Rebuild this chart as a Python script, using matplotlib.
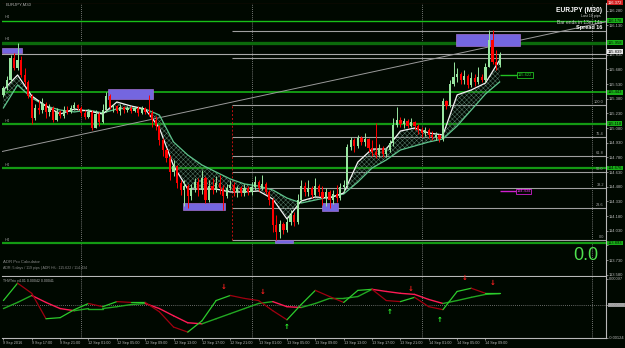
import numpy as np
import matplotlib
matplotlib.use("Agg")
import matplotlib.pyplot as plt
from matplotlib.patches import Rectangle

# ---- price data (M30 candles, bar 0 = 9 Sep 13:00) ----
first_open = 115.420
closes = [115.490, 115.572, 115.797, 115.695, 115.777, 115.623, 115.552, 115.408, 115.183, 115.286,
          115.265, 115.327, 115.245, 115.286, 115.163, 115.245, 115.204, 115.265, 115.245, 115.286,
          115.316, 115.286, 115.235, 115.194, 115.245, 115.081, 115.224, 115.143, 115.265, 115.408,
          115.296, 115.306, 115.255, 115.296, 115.265, 115.286, 115.255, 115.286, 115.235, 115.286,
          115.245, 115.235, 115.163, 115.102, 114.959, 114.856, 114.774, 114.631, 114.693, 114.519,
          114.447, 114.488, 114.386, 114.468, 114.529, 114.447, 114.570, 114.345, 114.488, 114.447,
          114.519, 114.468, 114.386, 114.468, 114.498, 114.427, 114.468, 114.417, 114.468, 114.427,
          114.478, 114.529, 114.468, 114.509, 114.427, 114.345, 114.089, 114.018, 114.100, 114.038,
          114.120, 114.192, 114.120, 114.345, 114.488, 114.427, 114.468, 114.396, 114.488, 114.427,
          114.365, 114.427, 114.345, 114.406, 114.365, 114.478, 114.498, 114.887, 114.959, 114.897,
          114.979, 114.938, 114.969, 114.877, 114.836, 114.805, 114.877, 114.815, 114.856, 114.928,
          115.112, 115.163, 115.122, 115.153, 115.102, 115.143, 115.102, 115.061, 115.030, 115.061,
          115.010, 114.989, 115.010, 114.969, 115.357, 115.306, 115.531, 115.603, 115.633, 115.572,
          115.613, 115.521, 115.592, 115.552, 115.603, 115.572, 115.705, 115.981, 115.756, 115.725,
          115.839]
highs = [115.511, 115.613, 115.828, 115.848, 115.950, 115.817, 115.695, 115.572, 115.429, 115.327,
         115.368, 115.388, 115.347, 115.327, 115.306, 115.286, 115.265, 115.306, 115.306, 115.316,
         115.347, 115.327, 115.306, 115.265, 115.275, 115.265, 115.265, 115.245, 115.327, 115.449,
         115.429, 115.327, 115.316, 115.327, 115.306, 115.306, 115.306, 115.306, 115.306, 115.306,
         115.296, 115.419, 115.265, 115.204, 115.112, 114.979, 114.877, 114.805, 114.754, 114.703,
         114.550, 114.550, 114.509, 114.509, 114.570, 114.570, 114.652, 114.590, 114.550, 114.570,
         114.590, 114.601, 114.498, 114.509, 114.550, 114.529, 114.488, 114.488, 114.509, 114.488,
         114.529, 114.590, 114.550, 114.601, 114.529, 114.447, 114.365, 114.192, 114.140, 114.120,
         114.161, 114.243, 114.222, 114.406, 114.550, 114.529, 114.550, 114.488, 114.570, 114.509,
         114.488, 114.468, 114.447, 114.447, 114.498, 114.519, 114.550, 114.918, 114.989, 114.979,
         115.010, 114.999, 115.030, 114.979, 114.959, 115.132, 114.918, 114.897, 114.887, 114.959,
         115.183, 115.296, 115.194, 115.183, 115.173, 115.183, 115.153, 115.122, 115.091, 115.091,
         115.081, 115.050, 115.040, 115.020, 115.388, 115.368, 115.572, 115.756, 115.695, 115.654,
         115.674, 115.633, 115.654, 115.633, 115.705, 115.633, 115.746, 116.083, 116.083, 115.879,
         115.858]
lows = [115.398, 115.470, 115.552, 115.674, 115.674, 115.603, 115.521, 115.388, 115.122, 115.163,
        115.224, 115.235, 115.183, 115.204, 115.143, 115.153, 115.183, 115.183, 115.224, 115.235,
        115.265, 115.265, 115.204, 115.173, 115.183, 115.061, 115.081, 115.102, 115.132, 115.245,
        115.275, 115.245, 115.235, 115.214, 115.235, 115.245, 115.235, 115.245, 115.204, 115.224,
        115.224, 115.204, 115.091, 115.061, 114.907, 114.795, 114.733, 114.550, 114.590, 114.468,
        114.396, 114.284, 114.263, 114.345, 114.427, 114.386, 114.406, 114.314, 114.325, 114.406,
        114.427, 114.406, 114.243, 114.365, 114.447, 114.386, 114.376, 114.386, 114.386, 114.396,
        114.396, 114.447, 114.437, 114.447, 114.406, 114.294, 114.018, 113.936, 113.956, 113.997,
        114.018, 114.089, 114.079, 114.100, 114.325, 114.386, 114.386, 114.365, 114.376, 114.386,
        114.294, 114.284, 114.263, 114.304, 114.325, 114.345, 114.427, 114.468, 114.856, 114.836,
        114.877, 114.907, 114.897, 114.836, 114.795, 114.774, 114.785, 114.785, 114.785, 114.836,
        114.897, 115.091, 115.091, 115.081, 115.081, 115.091, 115.061, 115.020, 114.989, 114.999,
        114.979, 114.959, 114.959, 114.938, 114.948, 115.275, 115.296, 115.511, 115.552, 115.531,
        115.531, 115.490, 115.500, 115.511, 115.531, 115.552, 115.552, 115.705, 115.736, 115.674,
        115.705]

# moving-average ribbon, read every 4th bar
ma_step = 4
ma_fast = [115.470, 115.623, 115.408, 115.306, 115.224, 115.275, 115.255, 115.224, 115.347, 115.306,
           115.275, 115.081, 114.693, 114.457, 114.457, 114.457, 114.427, 114.427, 114.437, 114.355,
           114.151, 114.335, 114.376, 114.365, 114.417, 114.733, 114.866, 114.866, 115.050, 115.081,
           115.030, 115.010, 115.419, 115.470, 115.541, 115.777]
ma_slow = [115.286, 115.521, 115.388, 115.306, 115.265, 115.245, 115.265, 115.235, 115.275, 115.286,
           115.275, 115.214, 114.938, 114.805, 114.703, 114.631, 114.560, 114.509, 114.488, 114.447,
           114.365, 114.314, 114.345, 114.376, 114.406, 114.529, 114.672, 114.754, 114.856, 114.897,
           114.938, 114.969, 115.102, 115.265, 115.429, 115.552]

# THV Trix oscillator (units of 1e-5), read every 4th bar
trix_fast = [15, 80, 42, -53, -49, -19, 4, -8, 11, 8, 8, -27, -84, -103, -61, 15, 34, 23, 15, -23,
             -57, 0, 53, 30, 8, 53, 57, 15, 11, 27, -8, -19, 49, 61, 42, 42]
trix_slow = [-15, 8, 34, 8, -15, -23, -15, -15, -8, 0, 4, -15, -42, -68, -72, -53, -34, -15, 4, 11,
             -8, -11, 4, 23, 23, 30, 57, 49, 42, 38, 19, 4, 15, 27, 38, 41]
arrow_dn_bars = [62, 73, 115, 130, 138]
arrow_dn_vals = [49, 30, 42, 84, 65]
arrow_up_bars = [80, 109, 123]
arrow_up_vals = [-68, -11, -42]

time_labels = ['9 Sep 2016', '9 Sep 17:00', '9 Sep 21:00', '12 Sep 01:00', '12 Sep 05:00',
               '12 Sep 09:00', '12 Sep 13:00', '12 Sep 17:00', '12 Sep 21:00', '13 Sep 01:00',
               '13 Sep 05:00', '13 Sep 09:00', '13 Sep 13:00', '13 Sep 17:00', '13 Sep 21:00',
               '14 Sep 01:00', '14 Sep 05:00', '14 Sep 09:00']
label_step = 8
separator_bars = [22, 70, 118, 166]

# levels and drawings
green_levels = [116.180, 115.955, 115.448, 115.125, 114.672, 113.905]
green_labels = ['116.178', '115.958', '115.443', '115.118', '114.676', '113.893']
h4_levels = [116.180, 115.955, 115.125, 114.672, 113.905]
red_level = 116.372
bid = 115.839
fib_levels = [0.0, 23.6, 38.2, 50.0, 61.8, 76.4, 100.0]
fib_low, fib_high = 113.940, 115.316
fib_bar = 64.5
extra_gray = [116.073, 115.797]
zones = [(-0.4, 5.3, 115.848, 115.899), (29.5, 42.2, 115.378, 115.480),
         (50.7, 62.5, 114.243, 114.314), (76.6, 81.7, 113.905, 113.936),
         (89.9, 94.4, 114.233, 114.314), (127.7, 145.8, 115.920, 116.042)]
trend = ([-1.0, 171.0], [114.836, 116.175])
adr_high, adr_low = 115.622, 114.434

BG = '#000800'
GRAY = '#b8b8b8'
SMALL = ['Liberation Sans', 'DejaVu Sans']
plt.rcParams['hatch.linewidth'] = 0.35
plt.rcParams['axes.unicode_minus'] = False

W, H = 625, 348
fig = plt.figure(figsize=(6.25, 3.48), dpi=100, facecolor=BG)
ax = fig.add_axes([2 / W, 1 - 276 / H, 604 / W, 273 / H], facecolor=BG)
sub = fig.add_axes([2 / W, 1 - 338 / H, 604 / W, 61 / H], facecolor=BG)

n = len(closes)
bars = np.arange(n)
opens = np.array([first_open] + closes[:-1])
c = np.array(closes)
h = np.maximum(np.array(highs), np.maximum(opens, c))
l = np.minimum(np.array(lows), np.minimum(opens, c))
up = c >= opens

for a in (ax, sub):
    a.set_xlim(-0.4, 170.0)
    for b in separator_bars:
        a.axvline(b, color='#9a9a9a', lw=0.6, ls=(0, (1, 1.5)), zorder=1)
    for s in ('left', 'top'):
        a.spines[s].set_visible(False)
    for s in ('right', 'bottom'):
        a.spines[s].set_color(GRAY)
        a.spines[s].set_linewidth(0.8)

ax.set_ylim(113.568, 116.359)

# horizontal levels
ax.axhline(red_level, color='#e02020', lw=1.5, zorder=2)
for lv, lw, col in zip(green_levels, [1.0, 2.4, 1.1, 1.6, 1.6, 1.6],
                       ['#18c018', '#0b6a0b', '#18c018', '#139a13', '#139a13', '#139a13']):
    ax.axhline(lv, color=col, lw=lw, zorder=2)
for lv in h4_levels:
    ax.text(0.4, lv + 0.012, 'H4', color='#9a9a9a', fontsize=2.8, va='bottom', zorder=3,
            family=SMALL)
ax.axhline(bid, color='#a8a8a8', lw=0.8, zorder=2)
for lv in extra_gray:
    ax.hlines(lv, fib_bar, 170.0, color='#a0a0a0', lw=0.8, zorder=2)
for f in fib_levels:
    y = fib_low + (fib_high - fib_low) * f / 100
    ax.hlines(y, fib_bar, 170.0, color='#a0a0a0', lw=0.8, zorder=2)
    ax.text(169.4, y + 0.01, f'{f:.1f}', color='#a8a8a8', fontsize=2.8, ha='right', va='bottom',
            family=SMALL)
ax.vlines(fib_bar, fib_low, fib_high, color='#c01010', lw=0.7, ls=(0, (2, 2)), zorder=2)
ax.plot(trend[0], trend[1], color='#9a9a9a', lw=0.7, zorder=2)

for x0, x1, y0, y1 in zones:
    ax.add_patch(Rectangle((x0, y0), x1 - x0, y1 - y0, facecolor='#7466e0',
                           edgecolor='#a070d0', lw=0.5, zorder=3))

# MA ribbon
xm = np.arange(0, n, ma_step)
ax.fill_between(xm, ma_fast, ma_slow, facecolor='none', edgecolor='#557868', hatch='xxxxxxx',
                linewidth=0, zorder=3)
ax.plot(xm, ma_slow, color='#5ec48c', lw=0.9, zorder=4)
ax.plot(xm, ma_fast, color='#f4f4f4', lw=0.9, zorder=4)

# candles
cols = np.where(up, '#98e6a0', '#ff0000')
ax.vlines(bars, l, h, colors=cols, lw=0.7, zorder=5)
body_lo = np.minimum(opens, c)
body_h = np.maximum(np.abs(c - opens), 0.004)
ax.bar(bars, body_h, bottom=body_lo, width=0.62, color=cols, lw=0, zorder=6)

# ADR markers
ax.hlines(adr_high, 140, 145, color='#22c022', lw=1.0, zorder=5)
ax.text(145.2, adr_high, f'{adr_high:.3f}', color='#22d022', fontsize=3.0, va='center',
        family=SMALL, bbox=dict(boxstyle='square,pad=0.15', fc=BG, ec='#22c022', lw=0.6), zorder=7)
ax.hlines(adr_low, 140, 144.5, color='#d020d0', lw=1.0, zorder=5)
ax.text(144.7, adr_low, f'{adr_low:.3f}', color='#e030e0', fontsize=3.0, va='center',
        family=SMALL, bbox=dict(boxstyle='square,pad=0.15', fc=BG, ec='#d020d0', lw=0.6), zorder=7)

# right price scale (labels hidden where a level label covers them, as in the terminal)
ax.yaxis.tick_right()
ticks = np.round(np.arange(113.580, 116.281, 0.150), 3)
ax.set_yticks(ticks)
tick_labels = ['' if min(abs(t - g) for g in green_levels) < 0.03 else f'{t:.3f}' for t in ticks]
ax.set_yticklabels(tick_labels, family=SMALL)
ax.tick_params(axis='y', colors=GRAY, labelsize=3.0, length=1.2, width=0.5, pad=0.6)
ax.tick_params(axis='x', bottom=False, labelbottom=False)
yt = ax.get_yaxis_transform()
box_kw = dict(fontsize=3.0, va='center', ha='left', transform=yt, zorder=8, clip_on=False,
              family=SMALL)
for lv, lab in zip(green_levels, green_labels):
    ax.text(1.003, lv, lab, color='#001000',
            bbox=dict(boxstyle='square,pad=0.1', fc='#18b018', ec='none'), **box_kw)
ax.text(1.003, red_level - 0.012, f'{red_level:.3f}', color='#ffffff',
        bbox=dict(boxstyle='square,pad=0.1', fc='#d02020', ec='none'), **box_kw)
ax.text(1.003, bid + 0.022, f'{bid:.3f}', color='#000000',
        bbox=dict(boxstyle='square,pad=0.1', fc='#e8e8e8', ec='none'), **box_kw)

# oscillator panel
scale = 1e-5
tf = np.array(trix_fast) * scale
ts = np.array(trix_slow) * scale
sub.set_ylim(-0.00125, 0.00103)
sub.axhline(0, color='#8a8a8a', lw=0.6, ls=(0, (1, 1.5)))
for i in range(len(xm) - 1):
    seg = xm[i:i + 2]
    sub.plot(seg, ts[i:i + 2], color='#22a822' if ts[i + 1] >= ts[i] else '#ff1a55', lw=1.0,
             solid_capstyle='round')
    sub.plot(seg, tf[i:i + 2], color='#2ccc2c' if tf[i + 1] >= tf[i] else '#a00010', lw=0.9,
             solid_capstyle='round')
for b, v in zip(arrow_dn_bars, arrow_dn_vals):
    sub.text(b, v * scale + 0.00006, '↓', color='#ff2020', fontsize=5, ha='center',
             va='bottom', fontweight='bold')
for b, v in zip(arrow_up_bars, arrow_up_vals):
    sub.text(b, v * scale - 0.00006, '↑', color='#30ff30', fontsize=5, ha='center',
             va='top', fontweight='bold')
sub.yaxis.tick_right()
sub.set_yticks([0.00097, 0.0, -0.00124])
sub.set_yticklabels(['0.00097', '0.000000', '-0.00124'], family=SMALL)
sub.get_yticklabels()[1].set_bbox(dict(boxstyle='square,pad=0.1', fc='#9a9a9a', ec='none'))
sub.get_yticklabels()[1].set_color('#101010')
sub.tick_params(axis='y', colors=GRAY, labelsize=2.9, length=1.2, width=0.5, pad=0.6)
sub.set_xticks(np.arange(len(time_labels)) * label_step)
sub.set_xticklabels(time_labels, ha='left', family=SMALL)
sub.tick_params(axis='x', colors=GRAY, labelsize=2.7, length=1.5, width=0.5, pad=0.8)

# texts
def ftext(x, y, s, **kw):
    fig.text(x / W, 1 - y / H, s, **kw)

ftext(6, 5, 'EURJPY,M30', color='#b0b0b0', fontsize=3.1, va='center', family=SMALL)
ftext(602, 10, 'EURJPY (M30)', color='#ffffff', fontsize=4.8, fontweight='bold', ha='right',
      va='center', family=SMALL)
ftext(601, 16, 'Last 10 pips', color='#d0d0d0', fontsize=2.6, ha='right', va='center', family=SMALL)
ftext(602, 22, 'Bar ends in 13m 14s', color='#d0d0d0', fontsize=3.5, ha='right', va='center',
      family=SMALL)
ftext(602, 28, 'Spread 16', color='#ffffff', fontsize=4.0, fontweight='bold', ha='right',
      va='center', family=SMALL)
ftext(3, 262, 'ADR Pro Calculator', color='#8a8a8a', fontsize=3.1, va='center', family=SMALL)
ftext(3, 268, 'ADR: 5 days / 119 pips | ADR H/L: 115.622 / 114.434', color='#8a8a8a',
      fontsize=2.6, va='center', family=SMALL)
ftext(573, 255, '0.0', color='#4ee04e', fontsize=13, va='center', family='Liberation Sans')
ftext(3, 281, 'THVTrix v4.01 0.00042 0.00041', color='#b0b0b0', fontsize=2.6, va='center',
      family=SMALL)

fig.savefig('out.png', dpi=100, facecolor=BG)
